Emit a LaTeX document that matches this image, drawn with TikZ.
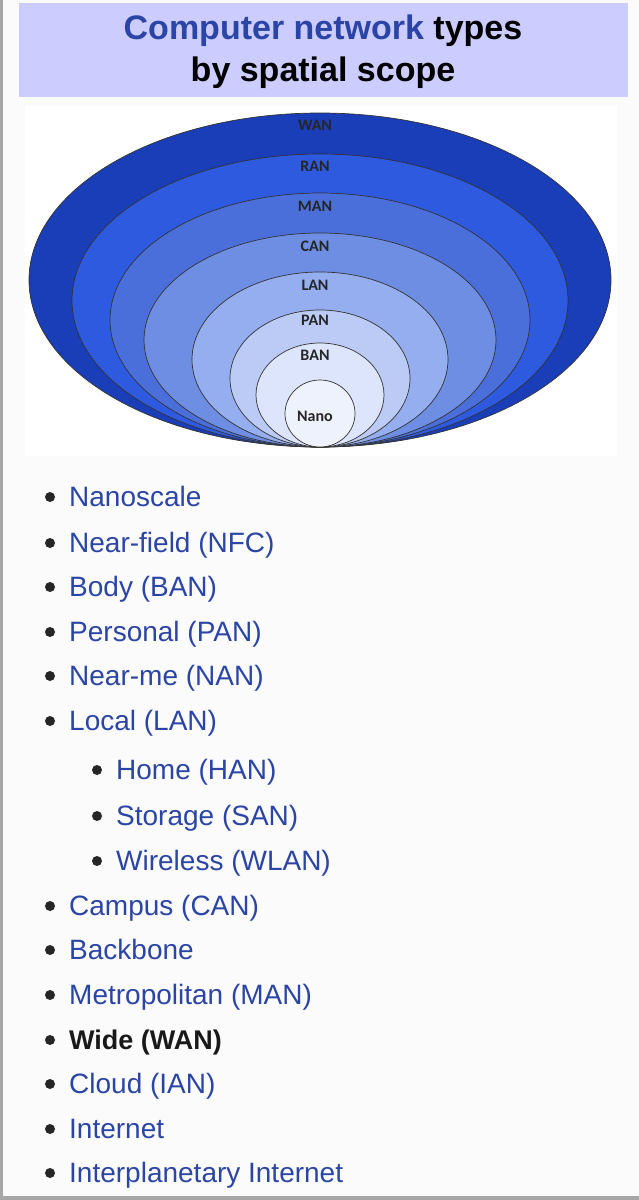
\documentclass[tikz,border=0pt]{standalone}
\usepackage{fontspec}
\setmainfont{Liberation Sans}
\newfontfamily\lblfont{Carlito}
\definecolor{linkblue}{HTML}{2B45A6}
\definecolor{titlebg}{HTML}{CCCCFF}
\begin{document}
\begin{tikzpicture}[x=1pt,y=-1pt,
  ring/.style={draw=black!80,line width=0.7pt},
  rlbl/.style={font=\lblfont\bfseries\fontsize{16}{16}\selectfont,text=black!85},
  item/.style={anchor=base west,inner sep=0,font=\fontsize{28}{30}\selectfont,text=linkblue},
  dot/.style={circle,fill=black!85,inner sep=0,minimum size=10pt}]
\useasboundingbox (0,0) rectangle (639,1200);
\fill[gray!3] (0,0) rectangle (639,1200);
\fill[black!35] (0,0) rectangle (3,1200);
\fill[black!35] (0,1196) rectangle (639,1200);
\fill[titlebg] (19,3) rectangle (628,97);
\node (title) at (323,52) [align=center,font=\bfseries\fontsize{34}{42}\selectfont]
  {\textcolor{linkblue}{Computer network} types\\by spatial scope};
\fill[white] (25,106) rectangle (617,456);
\foreach \n/\t/\w/\c in {wan/113/291/1A3DB8,ran/154/248/2E5AE0,man/193/210/4A6FDB,can/233/176/6E8EE3,lan/272/128/94AEF0,pan/310/90/BCCBF5,ban/343/64/DCE5FB,nano/380/35/EEF2FD}{
  \definecolor{cc}{HTML}{\c}
  \path[ring,fill=cc] (320,{(\t+447)/2}) ellipse [x radius=\w, y radius={(447-\t)/2}];
}
\foreach \l/\y in {WAN/125,RAN/166,MAN/206,CAN/246,LAN/285,PAN/320,BAN/355,Nano/416}
  \node[rlbl] (l\l) at (315,\y) {\l};
\foreach \tx/\y [count=\i] in {Nanoscale/496,Near-field (NFC)/542,Body (BAN)/586,Personal (PAN)/631,Near-me (NAN)/675,Local (LAN)/720,Campus (CAN)/905,Backbone/949,Metropolitan (MAN)/994,Cloud (IAN)/1083,Internet/1128,Interplanetary Internet/1172}{
  \node[dot] (b\i) at (50,{\y+1}) {};
  \node[item] (t\i) at (69,{\y+10}) {\tx};
}
\foreach \tx/\y [count=\i] in {Home (HAN)/769,Storage (SAN)/815,Wireless (WLAN)/860}{
  \node[dot] (sb\i) at (97,{\y+1}) {};
  \node[item] (st\i) at (116,{\y+10}) {\tx};
}
\node[dot] (bw) at (50,1040) {};
\node[item,text=black!90,font=\bfseries\fontsize{27}{30}\selectfont] (tw) at (69,1049) {Wide (WAN)};
\end{tikzpicture}
\end{document}
